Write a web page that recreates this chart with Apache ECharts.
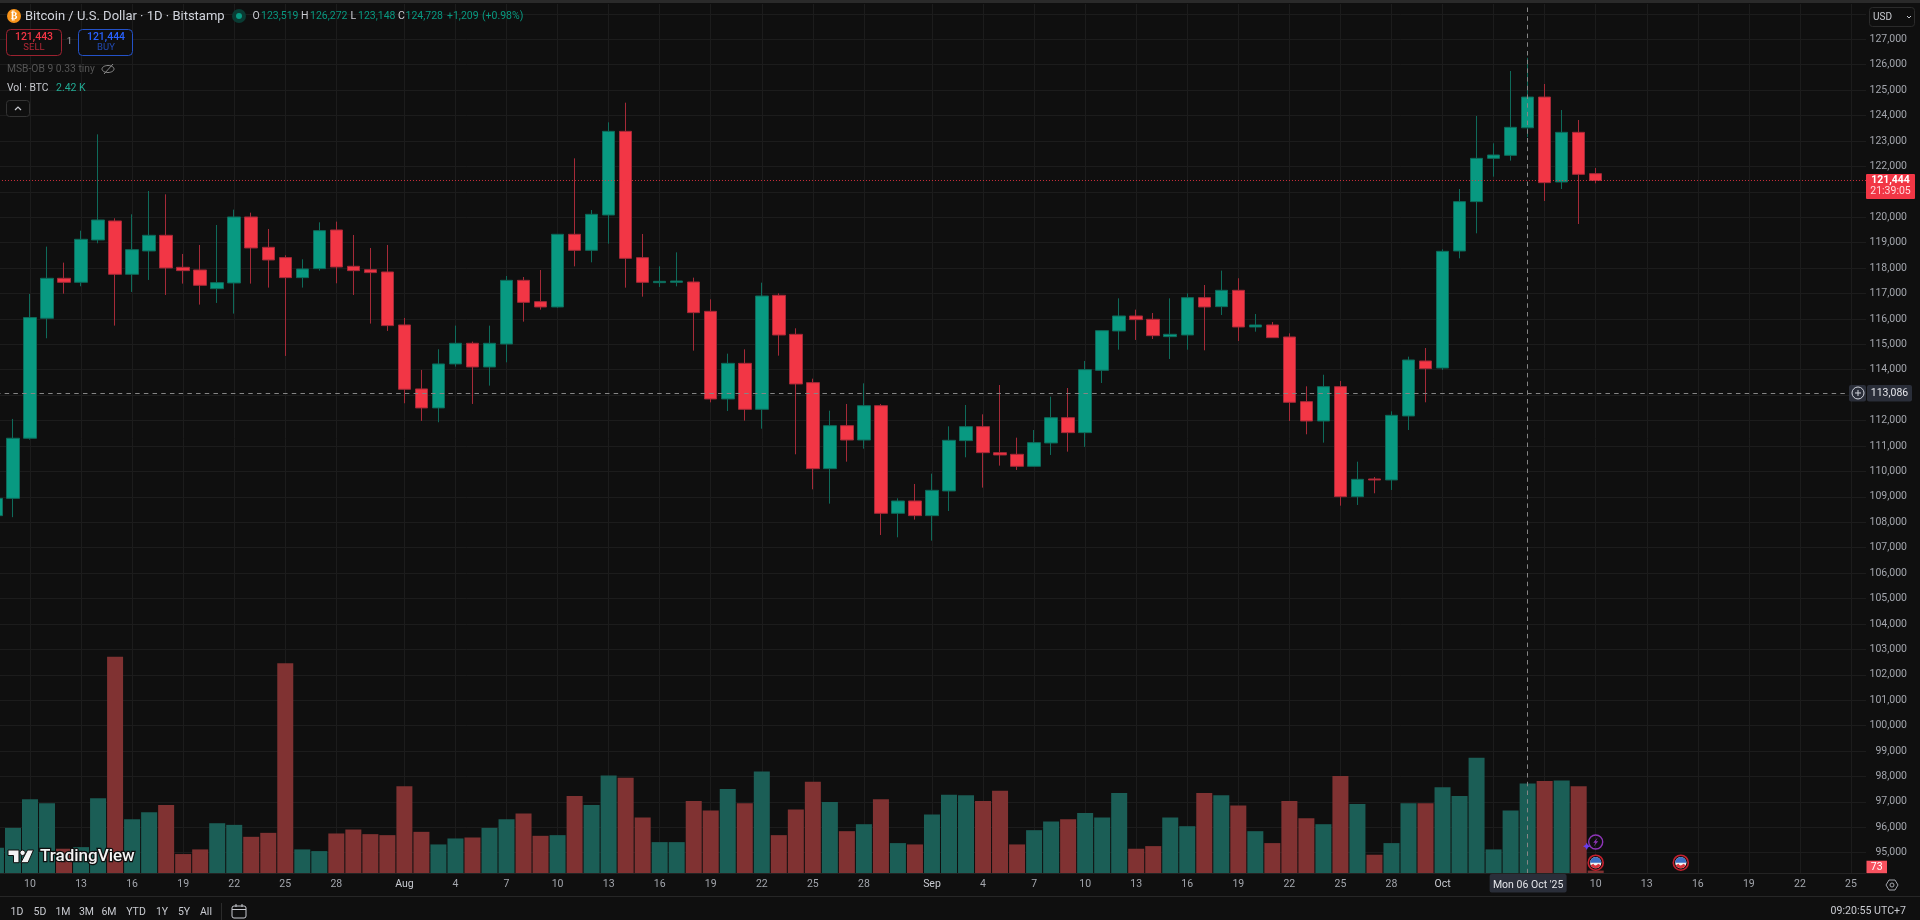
<!DOCTYPE html>
<html>
<head>
<meta charset="utf-8">
<style>html,body{margin:0;padding:0;background:#0f0f0f;overflow:hidden}#chart{width:1920px;height:920px}</style>
<script src="https://cdn.jsdelivr.net/npm/echarts@6/dist/echarts.min.js"></script>
</head>
<body>
<div id="chart"></div>
<script>
// BTC/USD daily candles, 8 Jul to 10 Oct 2025
const monthSpans = [['Jul', 8, 31], ['Aug', 1, 31], ['Sep', 1, 30], ['Oct', 1, 26]];
const opens = [
  108260,108940,111305,116025,117598,117440,119105,119853,117755,118673,119289,118030,117926,117191,117414,120010,118817,118411,117624,117978,119499,118070,117938,117847,
  115762,113245,112498,114228,115041,114108,115013,117518,116679,116469,119328,118698,120088,123379,118410,117426,117439,117452,116298,112850,114252,112443,116928,115393,113492,110109,111800,111236,112587,108352,108837,
  108260,109231,111211,111761,110738,110673,110201,111119,112115,111525,113977,115525,116115,115984,115302,115367,116836,116482,117125,115682,115761,115289,112745,111984,113335,109007,109703,109663,112181,114345,
  114069,118672,120613,122317,122435,123519,124728,121386,123340,121714
];
const closes = [
  108940,111305,116051,117598,117440,119132,119892,117755,118725,119289,118004,117899,117322,117427,120010,118791,118319,117624,117965,119472,118043,117899,117821,115736,
  113232,112498,114228,115041,114110,115040,117518,116652,116469,119328,118698,120114,123379,118383,117439,117478,117491,116246,112850,114252,112443,116901,115367,113440,110109,111800,111236,112587,108352,108837,108260,
  109257,111224,111761,110738,110647,110201,111132,112115,111525,114004,115538,116115,115971,115341,115394,116836,116469,117125,115682,115761,115263,112719,111984,113335,109007,109689,109663,112207,114384,114043,
  118659,120613,122317,122448,123537,124728,121360,123340,121688,121444
];
const lows = [
  107500,108200,111250,115238,116995,117283,118974,115736,117060,117532,116942,117388,116562,116627,116208,117388,117231,114543,117231,117899,117401,116942,115815,115526,
  112681,111987,111934,114123,112655,113374,114292,115892,116364,116440,118068,118226,118960,117229,116875,117256,117282,114751,112718,112377,111997,111682,114554,110673,109296,108732,110384,110896,107499,107408,108103,
  107277,108444,110555,109362,110227,110057,110190,110647,110778,110961,113479,114790,115171,115210,114423,114790,114764,116154,115131,115498,115250,111984,111460,111132,108653,108680,109139,109270,111630,112719,
  113990,118383,119367,121596,122226,123148,120639,121111,119734,121334
];
const highs = [
  109200,112065,116982,118843,118214,119470,123261,119958,120115,121032,120901,118555,118909,119695,120298,120180,119538,118503,118345,119800,119826,119302,118791,118909,
  116038,113992,114805,115736,115107,115735,117688,117649,117924,119340,122317,120285,123733,124507,119341,118069,118619,117623,116770,114633,114803,117426,117006,115630,113649,112390,112653,113466,112653,108942,109506,
  109912,111774,112614,112246,113400,111328,111630,112941,113282,114345,115550,116810,116364,116233,116810,117006,117334,117900,117600,116194,115879,115433,113348,113804,113558,110384,109781,112364,114515,114856,
  118737,121111,123983,122907,125753,126272,125241,124219,123825,121937
];
const volumes = [
  688,1223,1991,1884,661,705,2018,5831,1456,1643,1840,518,643,1348,1304,982,1089,5653,643,598,1072,1179,1054,1027,
  2340,1116,777,938,964,1223,1456,1607,1009,1027,2081,1840,2634,2572,1500,839,839,1947,1688,2268,1884,2742,1027,1715,2465,1920,1134,1322,1991,813,777,
  1581,2116,2099,1947,2224,777,1161,1393,1456,1625,1500,2161,661,732,1500,1268,2161,2099,1822,1134,813,1947,1482,1322,2616,1866,500,813,1884,1884,
  2313,2081,3108,643,1688,2420,2483,2500,2340,73
];
const axisDays = [
  'Jul 10','Jul 13','Jul 16','Jul 19','Jul 22','Jul 25','Jul 28',
  'Aug 1','Aug 4','Aug 7','Aug 10','Aug 13','Aug 16','Aug 19','Aug 22','Aug 25','Aug 28',
  'Sep 1','Sep 4','Sep 7','Sep 10','Sep 13','Sep 16','Sep 19','Sep 22','Sep 25','Sep 28',
  'Oct 1','Oct 4','Oct 7','Oct 10','Oct 13','Oct 16','Oct 19','Oct 22','Oct 25'
];
const coveredDays = ['Oct 4', 'Oct 7'];
const coveredPrices = [128000, 121000, 113000];
const lastPrice = 121444;
const cursorPrice = 113086;
const cursorDay = 'Oct 6';
const calendarEvents = ['Oct 10', 'Oct 15'];
const rangeButtons = [['1D',17],['5D',40],['1M',63],['3M',86.5],['6M',109],['YTD',136],['1Y',162],['5Y',184],['All',206]];

const dates = [];
monthSpans.forEach(([m, from, to]) => { for (let d = from; d <= to; d++) dates.push(m + ' ' + d); });

const UP = '#089981', DOWN = '#f23645', WICK_UP = '#0e6a5a', WICK_DOWN = '#a52a38';
const VOL_UP = '#1b5e56', VOL_DOWN = '#803232';
const GRID = '#1c1c1c', BG = '#0f0f0f', AXIS_TEXT = '#a3a6ad';
const SANS = 'Roboto,sans-serif';
const AXIS_SIZE = 10.5;

const chart = echarts.init(document.getElementById('chart'), null, {renderer: 'canvas'});
const tickSet = new Set(axisDays);
const isTick = (i, v) => tickSet.has(v);

const cursorLine = {type: [4.5, 4.2], color: '#858585', width: 1};

chart.setOption({
  backgroundColor: BG,
  animation: false,
  grid: [
    {left: -4.04, width: 1872.04, top: 13.88, height: 838.82, outerBoundsMode: 'none'},
    {left: -4.04, width: 1872.04, top: 4, height: 869.3, outerBoundsMode: 'none'}
  ],
  xAxis: [
    {type: 'category', gridIndex: 0, data: dates, boundaryGap: false, show: false},
    {
      type: 'category', gridIndex: 1, data: dates, boundaryGap: false,
      axisLine: {show: false},
      axisTick: {show: false},
      splitLine: {show: true, interval: isTick, lineStyle: {color: GRID}},
      axisLabel: {
        interval: isTick, margin: 6, fontFamily: SANS, fontSize: AXIS_SIZE, color: AXIS_TEXT,
        hideOverlap: false,
        formatter: v => {
          if (coveredDays.includes(v)) return '';
          const [m, d] = v.split(' ');
          return d === '1' ? '{m|' + m + '}' : d;
        },
        rich: {m: {fontFamily: SANS, fontSize: AXIS_SIZE, color: '#c9cbd1'}}
      }
    }
  ],
  yAxis: [
    {
      type: 'value', gridIndex: 0, min: 95000, max: 128000, interval: 1000,
      axisLine: {show: false}, axisTick: {show: false}, axisLabel: {show: false},
      splitLine: {show: true, lineStyle: {color: GRID}}
    },
    {
      type: 'value', gridIndex: 0, position: 'right', min: 95000, max: 128000, interval: 1000, z: 10,
      axisLine: {show: false}, axisTick: {show: false}, splitLine: {show: false},
      axisLabel: {
        align: 'right', margin: 39, fontFamily: SANS, fontSize: AXIS_SIZE, color: AXIS_TEXT,
        padding: [0, 0, 2, 0],
        formatter: v => coveredPrices.includes(v) ? '' : v.toLocaleString('en-US')
      }
    },
    {
      type: 'value', gridIndex: 1, min: 0, max: 23400, show: false, splitLine: {show: false}
    }
  ],
  series: [
    {
      type: 'bar', name: 'Vol', xAxisIndex: 1, yAxisIndex: 2, barWidth: 16,
      data: volumes.map((v, i) => ({
        value: v,
        itemStyle: {color: closes[i] >= opens[i] ? VOL_UP : VOL_DOWN}
      })),
      markLine: {
        silent: true, symbol: 'none', label: {show: false}, lineStyle: cursorLine,
        data: [{xAxis: cursorDay}]
      },
      z: 1
    },
    {
      type: 'candlestick', name: 'BTCUSD', xAxisIndex: 0, yAxisIndex: 0, barWidth: 13,
      data: opens.map((o, i) => [o, closes[i], lows[i], highs[i]]),
      itemStyle: {color: UP, color0: DOWN, borderColor: WICK_UP, borderColor0: WICK_DOWN, borderWidth: 1},
      markLine: {
        silent: true, symbol: 'none', label: {show: false},
        data: [
          {yAxis: lastPrice, lineStyle: {type: [1, 2], color: DOWN, opacity: 0.85, width: 1}},
          {yAxis: cursorPrice, lineStyle: cursorLine}
        ]
      },
      z: 3
    }
  ]
});

// Pixel helpers so overlays follow the axes
const xOf = d => chart.convertToPixel({xAxisIndex: 1}, d);
const yOf = p => chart.convertToPixel({yAxisIndex: 0}, p);

const rect = (x, y, w, h, fill, extra) => ({type: 'rect', shape: {x, y, width: w, height: h, r: (extra && extra.r) || 0},
  style: {fill: fill, stroke: (extra && extra.stroke) || null, lineWidth: 1}, z: (extra && extra.z) || 50, silent: true});
const text = (x, y, t, fill, size, opt) => ({type: 'text', x, y, z: 60, silent: true,
  style: Object.assign({text: t, fill, fontFamily: SANS, fontSize: size, textVerticalAlign: 'middle', textAlign: 'left'}, opt || {})});
const circle = (cx, cy, r, fill, stroke, lw) => ({type: 'circle', shape: {cx, cy, r}, z: 55, silent: true,
  style: {fill: fill || 'none', stroke: stroke || null, lineWidth: lw || 1}});
const poly = (points, fill, stroke, lw) => ({type: 'polygon', shape: {points}, z: 56, silent: true,
  style: {fill: fill || 'none', stroke: stroke || null, lineWidth: lw || 1}});
const line = (pts, stroke, lw) => ({type: 'polyline', shape: {points: pts}, z: 56, silent: true,
  style: {fill: 'none', stroke, lineWidth: lw || 1}});

const G = [];
// top edge, price-scale backing and pane separators
G.push(rect(0, 0, 1920, 3, '#2a2a2a'));
G.push(rect(1866, 3, 54, 871, BG, {z: 5}));
G.push(rect(0, 873, 1866, 1, '#232323'));
G.push(rect(0, 896, 1920, 1, '#262626'));

// symbol header
G.push(circle(14, 16, 7, '#f7931a'));
G.push(text(14, 16.5, '₿', '#ffffff', 10, {textAlign: 'center', fontFamily: '"DejaVu Sans"', fontWeight: 'bold'}));
G.push(text(25, 16.5, 'Bitcoin / U.S. Dollar · 1D · Bitstamp', '#d1d4dc', 13));
G.push(circle(239, 16, 7, '#0a3b33'));
G.push(circle(239, 16, 3, '#089981'));
[['O', 252.5, '123,519', 261], ['H', 301, '126,272', 310], ['L', 350.5, '123,148', 358], ['C', 398, '124,728', 405.5]].forEach(([k, kx, v, vx]) => {
  G.push(text(kx, 16.5, k, '#c9cbd1', 10.5));
  G.push(text(vx, 16.5, v, '#089981', 10.5));
});
G.push(text(447, 16.5, '+1,209', '#089981', 10.5));
G.push(text(482, 16.5, '(+0.98%)', '#089981', 10.5));

// order buttons
G.push(rect(6.5, 29.5, 55, 26, '#0f0f0f', {r: 4, stroke: '#9c2230'}));
G.push(text(34, 37, '121,443', '#f23645', 10.5, {textAlign: 'center', fontWeight: 500}));
G.push(text(34, 48, 'SELL', '#b32836', 9.5, {textAlign: 'center'}));
G.push(text(69.5, 42, '1', '#a3a6ad', 9.5, {textAlign: 'center'}));
G.push(rect(78.5, 29.5, 54, 26, '#0f0f0f', {r: 4, stroke: '#2452c8'}));
G.push(text(106, 37, '121,444', '#2962ff', 10.5, {textAlign: 'center', fontWeight: 500}));
G.push(text(106, 48, 'BUY', '#2149b0', 9.5, {textAlign: 'center'}));

// indicator legend
G.push(text(7, 69, 'MSB-OB 9 0.33 tiny', '#555555', 10.3));
G.push({type: 'ellipse', shape: {cx: 108, cy: 69, rx: 6, ry: 3.5}, z: 56, silent: true, style: {fill: 'none', stroke: '#8a8a8a', lineWidth: 1}});
G.push(line([[104, 74], [113, 64]], '#8a8a8a', 1));
G.push(text(7, 88, 'Vol · BTC', '#c9cbd1', 10.3));
G.push(text(56, 88, '2.42 K', '#22ab94', 10.5));
G.push(rect(6.5, 100.5, 23, 16, '#0f0f0f', {r: 3, stroke: '#333333'}));
G.push(line([[15, 110], [18, 107], [21, 110]], '#c9cbd1', 1.2));

// currency selector
G.push(rect(1869.5, 7.5, 45, 19, '#0f0f0f', {r: 3, stroke: '#2b2b2b'}));
G.push(text(1873, 17, 'USD', '#c9cbd1', 10));
G.push(line([[1907, 16], [1909, 18], [1911, 16]], '#c9cbd1', 1));

// last price tag, follows the axis
const lastY = yOf(lastPrice);
G.push(rect(1866, lastY - 6.6, 49, 25, '#f23645', {r: 1}));
G.push(text(1890.5, lastY, '121,444', '#ffffff', AXIS_SIZE, {textAlign: 'center', fontWeight: 'bold'}));
G.push(text(1890.5, lastY + 11, '21:39:05', '#ffd9dc', AXIS_SIZE, {textAlign: 'center'}));

// crosshair price tag
const curY = yOf(cursorPrice);
G.push(rect(1849, curY - 8, 17, 16.5, '#2a2e39', {r: 2}));
G.push(circle(1858, curY, 6, 'none', '#d1d4dc', 1));
G.push(line([[1855, curY], [1861, curY]], '#d1d4dc', 1));
G.push(line([[1858, curY - 3], [1858, curY + 3]], '#d1d4dc', 1));
G.push(rect(1867, curY - 8, 45, 16.5, '#2a2e39', {r: 2}));
G.push(text(1889.5, curY + 0.5, '113,086', '#e4e5e9', AXIS_SIZE, {textAlign: 'center'}));

// crosshair date tag
const curX = xOf(cursorDay);
G.push(rect(curX - 38, 874, 77, 18.5, '#2a2e39', {r: 2}));
G.push(text(curX + 0.5, 885, "Mon 06 Oct '25", '#e4e5e9', AXIS_SIZE, {textAlign: 'center'}));

// last volume tag
G.push(rect(1866.5, 860.7, 20.5, 12.5, '#f7525f'));
G.push(text(1876.7, 867.2, '73', '#ffffff', AXIS_SIZE, {textAlign: 'center'}));

// settings glyph
const sx = 1892, sy = 885;
G.push(poly([[sx - 6, sy], [sx - 3, sy - 5], [sx + 3, sy - 5], [sx + 6, sy], [sx + 3, sy + 5], [sx - 3, sy + 5]], 'none', '#a3a6ad', 1));
G.push(circle(sx, sy, 2, 'none', '#a3a6ad', 1));

// calendar event flags
calendarEvents.forEach(d => {
  const cx = xOf(d), cy = 862.7;
  G.push(circle(cx, cy, 7.5, '#0f0f0f', '#c4202f', 1.6));
  G.push(circle(cx, cy, 5.6, '#f2f2f2'));
  G.push({type: 'sector', shape: {cx, cy, r: 5.6, r0: 0, startAngle: Math.PI, endAngle: 2 * Math.PI}, z: 57, silent: true, style: {fill: '#3c6fc4'}});
  G.push({type: 'sector', shape: {cx, cy, r: 5.6, r0: 2.6, startAngle: 0.45, endAngle: Math.PI - 0.45}, z: 57, silent: true, style: {fill: '#d8353f'}});
});

// lightning marker above the first flag
const bx = xOf('Oct 10'), by = 842;
G.push(circle(bx, by, 7, 'none', '#8e35b8', 1.4));
G.push(poly([[bx + 2, by - 4.5], [bx - 2.5, by + 0.8], [bx - 0.2, by + 0.8], [bx - 2, by + 4.5], [bx + 2.5, by - 0.8], [bx + 0.2, by - 0.8]], '#8e35b8'));
G.push(poly([[bx - 9, by + 0.5], [bx - 7.8, by + 3], [bx - 5.3, by + 4.2], [bx - 7.8, by + 5.4], [bx - 9, by + 8], [bx - 10.2, by + 5.4], [bx - 12.7, by + 4.2], [bx - 10.2, by + 3]], '#6a3df0'));

// watermark
const mark = '#f4f4f4', edge = '#0f0f0f';
G.push(poly([[8, 850], [19, 850], [19, 862.7], [13.5, 862.7], [13.5, 855.5], [8, 855.5]], mark, edge, 1));
G.push(circle(22.6, 852.8, 2.7, mark, edge, 1));
G.push(poly([[27.5, 850], [33.5, 850], [28, 862.7], [20.8, 862.7]], mark, edge, 1));
G.push(text(40, 857, 'TradingView', mark, 17, {fontWeight: 500, stroke: edge, lineWidth: 2.5}));

// bottom toolbar
rangeButtons.forEach(([t, x]) => G.push(text(x, 912, t, '#c9cbd1', 10.5, {textAlign: 'center'})));
G.push(rect(221, 903, 1, 17, '#2b2b2b'));
G.push(rect(232, 906, 14, 12, 'none', {r: 2, stroke: '#c9cbd1'}));
G.push(line([[232, 909.5], [246, 909.5]], '#c9cbd1', 1));
G.push(line([[236, 904], [236, 907]], '#c9cbd1', 1));
G.push(line([[242, 904], [242, 907]], '#c9cbd1', 1));
G.push(text(1906, 911, '09:20:55 UTC+7', '#c9cbd1', 10.6, {textAlign: 'right'}));

chart.setOption({graphic: {elements: G}});
</script>
</body>
</html>
